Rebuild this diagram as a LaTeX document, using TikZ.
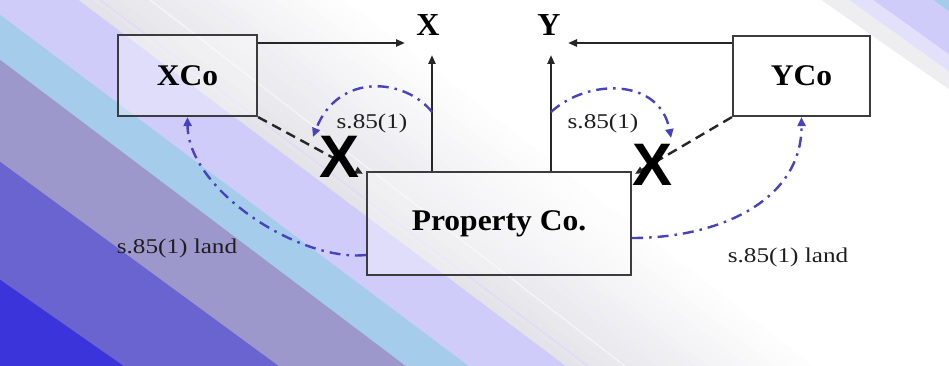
\documentclass[tikz,border=0pt]{standalone}
\usepackage{fontspec}
\setmainfont{Liberation Serif}
\newfontfamily\boxfont{Liberation Serif}[FakeStretch=1.05]
\newfontfamily\lblfont{Liberation Serif}[FakeStretch=1.2]
\newfontfamily\crossfont{Liberation Sans}
\usetikzlibrary{arrows.meta}

% background stripe colours
\definecolor{bgdeep}{RGB}{58,52,218}
\definecolor{bgmid}{RGB}{106,100,208}
\definecolor{bggrey}{RGB}{156,152,204}
\definecolor{bglblue}{RGB}{166,204,236}
\definecolor{bglav}{RGB}{208,204,250}
\definecolor{bgpale}{RGB}{226,226,232}
% drawing colours
\definecolor{boxline}{RGB}{60,60,60}
\definecolor{arcblue}{RGB}{72,66,190}
\definecolor{inkdark}{RGB}{30,30,30}

\begin{document}
\begin{tikzpicture}[x=1pt,y=-1pt,
  company/.style={draw=boxline, line width=2.2pt, fill=white, fill opacity=0.35,
    text opacity=1, text=black, inner sep=0pt,
    font=\boxfont\bfseries\fontsize{30}{30}\selectfont},
  party/.style={inner sep=0pt, text=black,
    font=\bfseries\fontsize{32}{32}\selectfont},
  lbl/.style={inner sep=0pt, text=inkdark,
    font=\lblfont\fontsize{21}{21}\selectfont},
  cross/.style={inner sep=0pt, text=black,
    font=\crossfont\bfseries\fontsize{60}{60}\selectfont},
  link/.style={line width=2.4pt, draw=black!85,
    -{Triangle[length=9pt,width=7pt]}},
  cut/.style={line width=2.4pt, draw=black!85, dash pattern=on 10pt off 6pt,
    -{Triangle[length=8pt,width=7pt]}},
  transfer/.style={line width=2.4pt, draw=arcblue,
    dash pattern=on 11pt off 6pt on 2.5pt off 6pt,
    -{Triangle[length=9pt,width=8pt]}},
]
% ---------- background ----------
\useasboundingbox (0,0) rectangle (949,366);
\begin{scope}
\clip (0,0) rectangle (949,366);
\fill[white] (0,0) rectangle (949,366);
% soft grey fade towards the white centre
\foreach \i in {20,19,...,0}{
  \pgfmathsetmacro{\tx}{77+14*\i}
  \pgfmathsetmacro{\bx}{567+13*\i}
  \pgfmathsetmacro{\pc}{100-5*\i}
  \fill[bgpale!\pc!white] (\tx,-1) -- (\bx,367) -- (-1,367) -- (-1,-1) -- cycle;
}
% faint streaks
\draw[bglav!70!white, line width=1.2pt] (100,0) -- (588,366);
\draw[white, opacity=0.5, line width=1.5pt] (150,0) -- (625,366);
\draw[bglav!40!white, line width=1pt] (205,0) -- (660,366);
% coloured stripes
\fill[bglav]   (77,-1) -- (567,367) -- (-1,367) -- (-1,-1) -- cycle;
\fill[bglblue] (-1,14) -- (470,367) -- (-1,367) -- cycle;
\fill[bggrey]  (-1,59) -- (407,367) -- (-1,367) -- cycle;
\fill[bgmid]   (-1,161) -- (280,367) -- (-1,367) -- cycle;
\fill[bgdeep]  (-1,279) -- (125,367) -- (-1,367) -- cycle;
% top right corner
\fill[bgpale!60!white] (820,-1) -- (950,90) -- (950,-1) -- cycle;
\fill[bglav!60!white] (848,-1) -- (950,72) -- (950,-1) -- cycle;
\fill[bglav] (872,-1) -- (950,55) -- (950,-1) -- cycle;
\fill[bglblue] (932,-1) -- (950,12) -- (950,-1) -- cycle;
\end{scope}

% ---------- companies and parties ----------
\node[company, minimum width=139pt, minimum height=81pt] (xco) at (187.5,75.5) {XCo};
\node[company, minimum width=137pt, minimum height=80pt] (yco) at (801.5,76) {YCo};
\node[company, minimum width=264pt, minimum height=103pt] (prop) at (499,223.5) {Property Co.};
\node[party] (px) at (428,25) {X};
\node[party] (py) at (549,25) {Y};

\coordinate (xin) at (405,43);
\coordinate (yin) at (568,43);
\coordinate (xup) at (432,55);
\coordinate (yup) at (551,55);

% ownership arrows
\draw[link] (xco.east |- xin) -- (xin);
\draw[link] (yco.west |- yin) -- (yin);
\draw[link] (xup |- prop.north) -- (xup);
\draw[link] (yup |- prop.north) -- (yup);

% broken links
\draw[cut] (xco.south east) -- ([xshift=-3pt,yshift=-3pt]prop.north west);
\draw[cut] (yco.south west) -- ([xshift=3pt,yshift=-3pt]prop.north east);
\node[cross] (cx1) at (340,157) {X};
\node[cross] (cx2) at (652,165) {X};

% s.85(1) transfers
\coordinate (xa) at (432,112);
\coordinate (ya) at (551,112);
\draw[transfer] (xa) .. controls (405,78) and (338,72) .. (313,137);
\draw[transfer] (ya) .. controls (588,78) and (660,78) .. (671,138);
\draw[transfer] (prop.west |- 0,255) .. controls (300,262) and (188,190) .. (xco.south);
\draw[transfer] (prop.east |- 0,238) .. controls (720,238) and (802,200) .. (yco.south);

\node[lbl] (t1) at (372,123) {s.85(1)};
\node[lbl] (t2) at (603,123) {s.85(1)};
\node[lbl] (t3) at (177,248) {s.85(1) land};
\node[lbl] (t4) at (788,257) {s.85(1) land};
\end{tikzpicture}
\end{document}
